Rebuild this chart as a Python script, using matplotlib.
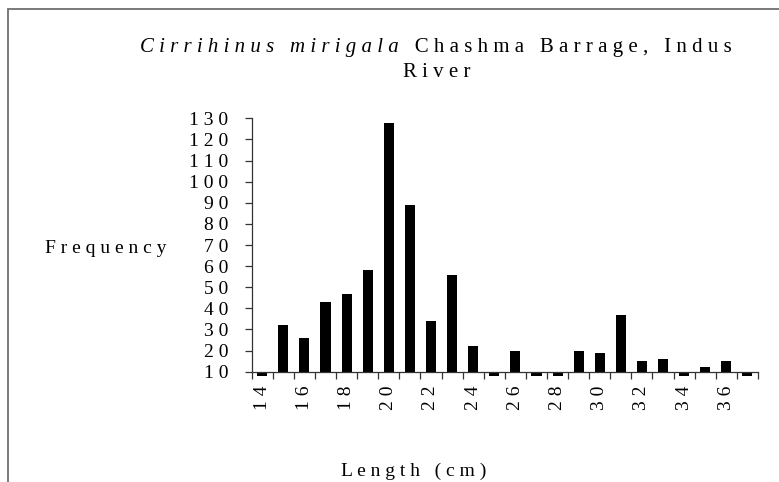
import matplotlib.pyplot as plt
import numpy as np
from matplotlib.patches import Rectangle

# Length classes (cm) and their counts
lengths = [14, 15, 16, 17, 18, 19, 20, 21, 22, 23, 24, 25,
           26, 27, 28, 29, 30, 31, 32, 33, 34, 35, 36, 37]
freq = [8, 32, 26, 43, 47, 58, 128, 89, 34, 56, 22, 8,
        20, 8, 8, 20, 19, 37, 15, 16, 8, 12, 15, 8]
yticks = list(range(10, 131, 10))

font = 'Liberation Serif'
fs = 14
title_fs = 15


def spaced(s):
    # loose letter spacing like the original
    return ' '.join(s)


fig = plt.figure(figsize=(7.79, 4.82), dpi=100)

# chart border (cropped on the right and bottom)
fig.patches.append(Rectangle((8 / 779, -0.1), 1.2, 1 - 9 / 482 + 0.1,
                             transform=fig.transFigure, fill=False,
                             edgecolor='#707070', linewidth=1.3))

ax = fig.add_axes([0.3231, 0.2288, 0.6499, 0.5257])
x = np.arange(len(lengths))
base = 10
ax.bar(x, [v - base for v in freq], bottom=base, width=0.48,
       color='black', clip_on=False)

ax.set_xlim(-0.5, len(lengths) - 0.5)
ax.set_ylim(10, 130)

ax.spines['top'].set_visible(False)
ax.spines['right'].set_visible(False)
for s in ['left', 'bottom']:
    ax.spines[s].set_color('#333333')
    ax.spines[s].set_linewidth(0.9)

ax.set_yticks(yticks)
ax.set_yticklabels([spaced(str(t)) for t in yticks], fontfamily=font,
                   fontsize=fs)
ax.tick_params(axis='y', direction='out', length=5, width=0.9,
               color='#333333', pad=12)

# labels on even lengths, tick marks between categories
major = [i for i, l in enumerate(lengths) if l % 2 == 0]
ax.set_xticks(major)
ax.set_xticklabels([spaced(str(lengths[i])) for i in major],
                   rotation=90, fontfamily=font, fontsize=fs)
ax.tick_params(axis='x', which='major', length=0, pad=10)
ax.set_xticks(np.arange(-0.5, len(lengths), 1), minor=True)
ax.tick_params(axis='x', which='minor', direction='out', length=5,
               width=0.9, color='#333333')

fig.text(45 / 779, 1 - 253 / 482, spaced('Frequency'), fontfamily=font,
         fontsize=fs, ha='left', va='baseline')
fig.text(414 / 779, 1 - 476 / 482, spaced('Length (cm)'), fontfamily=font,
         fontsize=fs, ha='center', va='baseline')

# title: italic species name followed by upright place name
t1 = fig.text(140 / 779, 1 - 52 / 482, spaced('Cirrihinus mirigala'),
              fontfamily=font, fontsize=title_fs, style='italic',
              ha='left', va='baseline')
ax.annotate('   ' + spaced('Chashma Barrage, Indus'), xy=(1, 0),
            xycoords=t1, va='bottom', ha='left', fontfamily=font,
            fontsize=title_fs, annotation_clip=False)
fig.text(437 / 779, 1 - 77 / 482, spaced('River'), fontfamily=font,
         fontsize=title_fs, ha='center', va='baseline')

fig.savefig('out.png', dpi=100)
